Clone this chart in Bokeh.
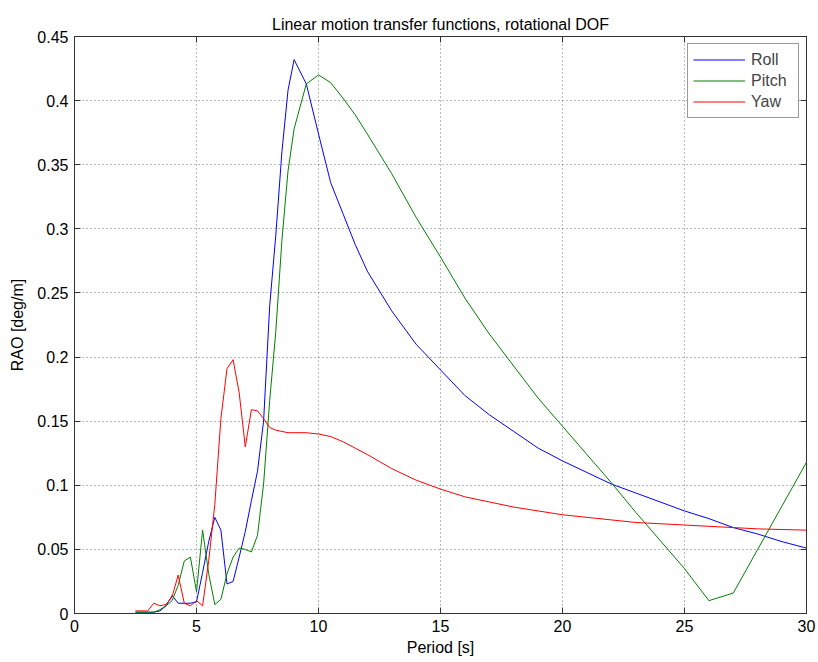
from bokeh.plotting import figure
from bokeh.models import (FixedTicker, CustomJSTickFormatter, LinearAxis, Legend, LegendItem)
from bokeh.embed import file_html
from bokeh.resources import INLINE

period = [2.5, 3.0, 3.25, 3.5, 3.75, 4.0, 4.25, 4.5, 4.75, 5.0, 5.25, 5.5, 5.75, 6.0,
          6.25, 6.5, 6.75, 7.0, 7.25, 7.5, 7.75, 8.0, 8.25, 8.5, 8.75, 9.0, 9.5, 10.0,
          10.5, 11.0, 11.5, 12.0, 13.0, 14.0, 15.0, 16.0, 17.0, 18.0, 19.0, 20.0, 21.0,
          22.0, 23.0, 24.0, 25.0, 26.0, 27.0, 28.0, 29.0, 30.0]

roll = [0.001, 0.001, 0.001, 0.002, 0.006, 0.014, 0.008, 0.008, 0.008, 0.009, 0.032,
        0.056, 0.075, 0.065, 0.023, 0.025, 0.044, 0.064, 0.088, 0.111, 0.150, 0.240,
        0.295, 0.360, 0.408, 0.432, 0.413, 0.374, 0.336, 0.312, 0.288, 0.267, 0.236,
        0.210, 0.190, 0.170, 0.155, 0.142, 0.129, 0.119, 0.110, 0.101, 0.094, 0.087,
        0.080, 0.074, 0.067, 0.062, 0.056, 0.051]

pitch = [0.001, 0.001, 0.001, 0.003, 0.006, 0.010, 0.022, 0.041, 0.044, 0.017, 0.065,
         0.031, 0.007, 0.011, 0.031, 0.044, 0.051, 0.050, 0.048, 0.061, 0.101, 0.166,
         0.220, 0.291, 0.345, 0.378, 0.413, 0.420, 0.414, 0.402, 0.389, 0.374, 0.343,
         0.309, 0.278, 0.246, 0.218, 0.193, 0.168, 0.146, 0.124, 0.102, 0.079, 0.057,
         0.035, 0.010, 0.016, 0.050, 0.084, 0.118]

yaw = [0.002, 0.002, 0.008, 0.006, 0.007, 0.013, 0.030, 0.008, 0.006, 0.010, 0.006,
       0.041, 0.085, 0.152, 0.191, 0.198, 0.172, 0.130, 0.159, 0.158, 0.152, 0.145,
       0.143, 0.142, 0.141, 0.141, 0.141, 0.140, 0.138, 0.134, 0.129, 0.124, 0.113,
       0.104, 0.097, 0.091, 0.087, 0.083, 0.080, 0.077, 0.075, 0.073, 0.071, 0.070,
       0.069, 0.068, 0.067, 0.066, 0.0655, 0.065]

x_ticks = [0, 5, 10, 15, 20, 25, 30]
y_ticks = [0, 0.05, 0.1, 0.15, 0.2, 0.25, 0.3, 0.35, 0.4, 0.45]

FONT = "Liberation Sans"
FS = "16px"

p = figure(width=818, height=662, x_range=(0, 30), y_range=(0, 0.45),
           output_backend="svg", toolbar_location=None,
           min_border_left=74, min_border_right=12, min_border_top=0, min_border_bottom=49,
           background_fill_color="white", border_fill_color="white")

p.title.text = "Linear motion transfer functions, rotational DOF"
p.title.align = "center"
p.title.text_font = FONT
p.title.text_font_size = "16px"
p.title.text_font_style = "normal"
p.title.text_color = "black"
p.title.standoff = 7
p.title.padding = (0, 0, 10, 0)

p.outline_line_color = "#333333"
p.outline_line_width = 1

fmt = CustomJSTickFormatter(code="return String(Number(tick.toFixed(2)));")
blank = CustomJSTickFormatter(code="return '';")

for ax, ticks in ((p.xaxis[0], x_ticks), (p.yaxis[0], y_ticks)):
    ax.ticker = FixedTicker(ticks=ticks)
    ax.formatter = fmt
    ax.major_tick_in = 6
    ax.major_tick_out = 0
    ax.minor_tick_line_color = None
    ax.axis_line_color = "#333333"
    ax.major_tick_line_color = "#333333"
    ax.major_label_text_font = FONT
    ax.major_label_text_font_size = FS
    ax.major_label_text_color = "black"
    ax.axis_label_text_font = FONT
    ax.axis_label_text_font_size = FS
    ax.axis_label_text_font_style = "normal"
    ax.axis_label_text_color = "black"

p.xaxis[0].axis_label = "Period [s]"
p.xaxis[0].major_label_standoff = 6
p.xaxis[0].axis_label_standoff = 4
p.yaxis[0].axis_label = "RAO [deg/m]"
p.yaxis[0].major_label_standoff = 6
p.yaxis[0].axis_label_standoff = 8

top = LinearAxis(ticker=FixedTicker(ticks=x_ticks), formatter=blank,
                 major_tick_in=6, major_tick_out=0, minor_tick_line_color=None,
                 axis_line_color=None, major_tick_line_color="#333333",
                 major_label_standoff=0)
right = LinearAxis(ticker=FixedTicker(ticks=y_ticks), formatter=blank,
                   major_tick_in=6, major_tick_out=0, minor_tick_line_color=None,
                   axis_line_color=None, major_tick_line_color="#333333",
                   major_label_standoff=0)
p.add_layout(top, "above")
p.add_layout(right, "right")

for g in (p.xgrid[0], p.ygrid[0]):
    g.grid_line_color = "#555555"
    g.grid_line_dash = "1 3"
    g.grid_line_alpha = 0.8
p.xgrid[0].ticker = FixedTicker(ticks=x_ticks)
p.ygrid[0].ticker = FixedTicker(ticks=y_ticks)

r1 = p.line(period, roll, line_color="#0000ff", line_width=1)
r2 = p.line(period, pitch, line_color="#008000", line_width=1)
r3 = p.line(period, yaw, line_color="#ff0000", line_width=1)

legend = Legend(items=[LegendItem(label="Roll", renderers=[r1]),
                       LegendItem(label="Pitch", renderers=[r2]),
                       LegendItem(label="Yaw", renderers=[r3])],
                location="top_right", margin=7, padding=5, spacing=0,
                glyph_width=52, glyph_height=21, label_height=21, label_width=42,
                label_standoff=6, label_text_font=FONT, label_text_font_size=FS,
                border_line_color="#333333", border_line_width=1,
                background_fill_color="white", background_fill_alpha=1)
p.add_layout(legend, "center")

open("out.html", "w").write(file_html(p, INLINE))
